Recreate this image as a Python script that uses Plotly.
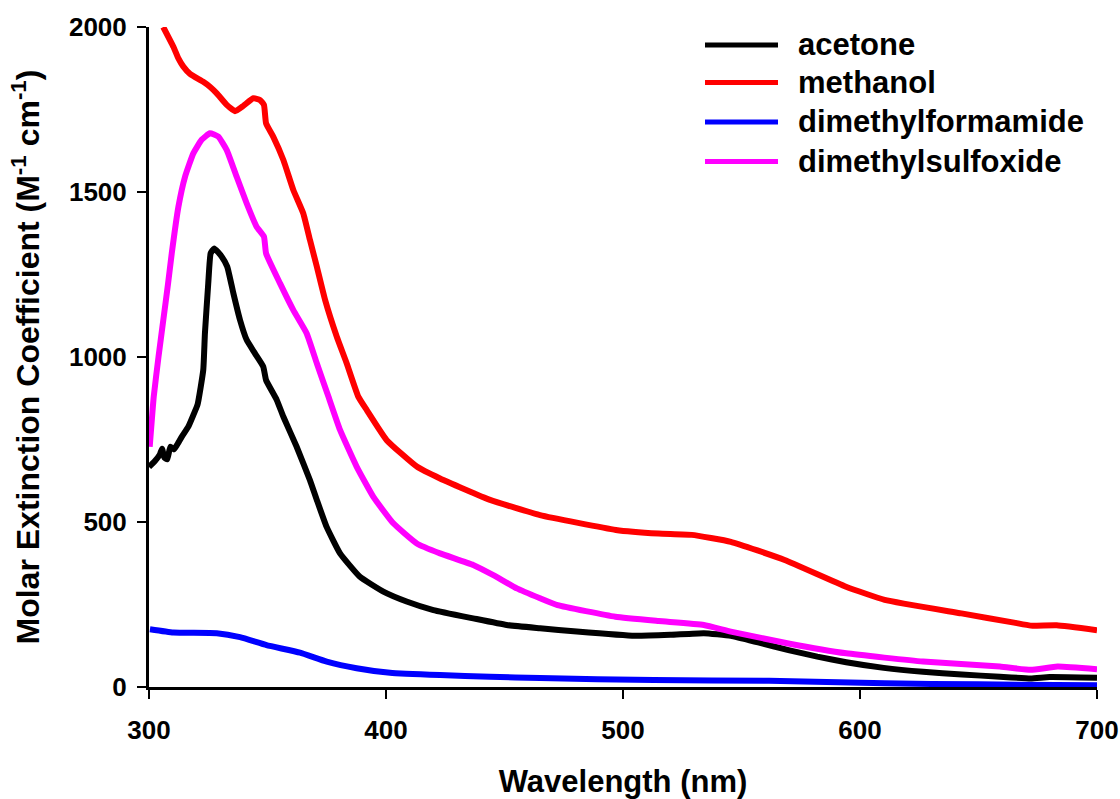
import plotly.graph_objects as go

# Absorption spectra (molar extinction coefficient vs wavelength) in four solvents
acetone_nm = [300, 302.5, 304.6, 305.5, 306.5, 307.7, 309, 310.5, 311.7, 313.8, 316.6, 318.7,
              320.5, 322.9, 323.6, 325, 326, 327.5, 330.7, 333, 335.6, 338.4, 341.2, 344.7,
              348.2, 349.4, 353.9, 356.7, 362.3, 367.9, 370.8, 374.9, 380.6, 389, 398.9,
              408.7, 420, 436.8, 450.9, 465, 480.5, 504.9, 520, 534.1, 545.5, 557, 569.8,
              582, 594.2, 610, 626.6, 643, 659, 672, 680, 700]
acetone_eps = [667, 685, 705, 722, 695, 690, 728, 720, 732, 758, 789, 824,
               856, 961, 1072, 1223, 1314, 1329, 1304, 1274, 1193, 1112, 1052, 1011,
               971, 930, 870, 819, 728, 627, 567, 486, 405, 334, 289,
               259, 233, 208, 188, 178, 168, 155, 158, 163, 155, 135, 112,
               92, 75, 58, 46, 38, 31, 26, 30, 28]

methanol_nm = [306, 310.3, 312.4, 314.5, 317.3, 322.9, 325.7, 328.6, 332.8, 336.3, 339.8,
               344, 346.8, 348.5, 349.4, 352.4, 356.7, 360.9, 365.1, 367.9, 370.8, 374.3,
               379.2, 383.4, 388.3, 391.9, 400.3, 413, 422.8, 443.9, 465, 497, 515, 529,
               545.5, 568.2, 594.1, 610.4, 642.8, 665, 672, 683, 700]
methanol_eps = [2000, 1940, 1905, 1880, 1858, 1834, 1819, 1799, 1764, 1745, 1761,
                1784, 1779, 1764, 1708, 1668, 1597, 1506, 1435, 1355, 1274, 1173,
                1062, 981, 880, 839, 748, 668, 632, 567, 521, 476, 465, 461,
                440, 385, 304, 264, 223, 195, 186, 187, 172]

dmf_nm = [300.4, 310.3, 328.6, 338.4, 349.6, 363.7, 375, 387.6, 401.7, 422.8, 443.9,
          465, 513, 561.6, 610.4, 650, 700]
dmf_eps = [175, 165, 163, 151, 127, 104, 77, 57, 43, 36, 31,
           27, 21, 19, 11, 8, 5]

dmso_nm = [300.3, 302, 304, 306, 308, 309.6, 312.4, 315.2, 318.7, 322.2, 325.7, 329.2,
           332.8, 337, 341.2, 345.4, 348.5, 349.4, 355.3, 360.9, 366.5, 370.8, 375.7,
           380.6, 387.6, 394.6, 403.1, 413, 422.8, 436.8, 445.3, 455.2, 465, 472.4,
           496.8, 515, 534.1, 545.5, 569.8, 594.2, 626.6, 659, 672, 683.4, 700]
dmso_eps = [728, 880, 1000, 1110, 1220, 1314, 1455, 1546, 1617, 1658, 1678, 1668,
            1627, 1546, 1466, 1395, 1365, 1314, 1223, 1142, 1072, 981, 880,
            779, 668, 577, 496, 435, 405, 370, 339, 299, 269, 248,
            213, 200, 188, 168, 132, 102, 77, 62, 52, 62, 54]

series_names = ["acetone", "methanol", "dimethylformamide", "dimethylsulfoxide"]
series_colors = ["#000000", "#ff0000", "#0000ff", "#ff00ff"]
series_x = [acetone_nm, methanol_nm, dmf_nm, dmso_nm]
series_y = [acetone_eps, methanol_eps, dmf_eps, dmso_eps]

x_ticks = [300, 400, 500, 600, 700]
y_ticks = [0, 500, 1000, 1500, 2000]

FONT = "Liberation Sans, Arial, sans-serif"

fig = go.Figure()
for name, color, xs, ys in zip(series_names, series_colors, series_x, series_y):
    fig.add_trace(go.Scatter(x=xs, y=ys, mode="lines", name=name,
                             line=dict(color=color, width=6, shape="spline", smoothing=0.4),
                             showlegend=False))

# Legend drawn as line samples + labels in the upper right of the plot area
leg_x0, leg_x1, leg_tx = 0.5865, 0.6635, 0.6825
leg_rows = [0.9728, 0.9159, 0.8561, 0.7962]
for name, color, yy in zip(series_names, series_colors, leg_rows):
    fig.add_shape(type="line", xref="paper", yref="paper", x0=leg_x0, x1=leg_x1, y0=yy, y1=yy,
                  line=dict(color=color, width=5))
    fig.add_annotation(xref="paper", yref="paper", x=leg_tx, y=yy, text="<b>%s</b>" % name,
                       showarrow=False, xanchor="left", yanchor="middle",
                       font=dict(family=FONT, size=31, color="black"))

axis_common = dict(showline=True, linewidth=3, linecolor="black", ticks="outside",
                   ticklen=9, tickwidth=2, tickcolor="black", showgrid=False,
                   zeroline=False, automargin=False,
                   tickfont=dict(family=FONT, size=26, color="black"))

fig.update_xaxes(range=[300, 700], tickvals=x_ticks, ticktext=["<b>%d</b>" % v for v in x_ticks],
                 ticklabelstandoff=9,
                 title=dict(text="<b>Wavelength (nm)</b>", standoff=28,
                            font=dict(family=FONT, size=31, color="black")),
                 **axis_common)
fig.update_yaxes(range=[0, 2000], tickvals=y_ticks, ticktext=["<b>%d</b>" % v for v in y_ticks],
                 ticklabelstandoff=5,
                 title=dict(text="<b>Molar Extinction Coefficient (M<sup>-1</sup> cm<sup>-1</sup>)</b>",
                            standoff=20, font=dict(family=FONT, size=32, color="black")),
                 **axis_common)

fig.update_layout(width=1120, height=799, margin=dict(l=149, r=23, t=27, b=112),
                  plot_bgcolor="white", paper_bgcolor="white", showlegend=False)

fig.write_html("out.html")
